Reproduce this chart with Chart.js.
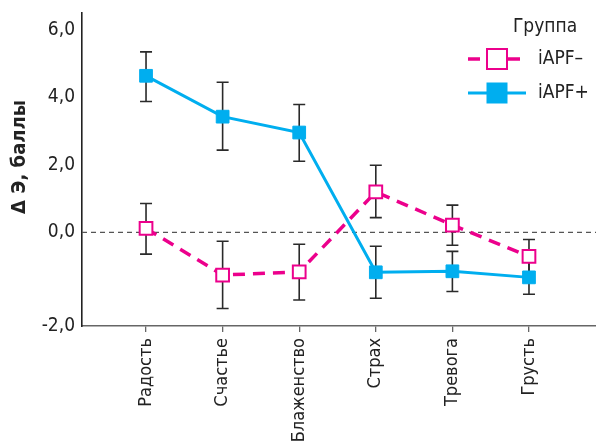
<!DOCTYPE html>
<html>
<head>
<meta charset="utf-8">
<script src="https://cdn.jsdelivr.net/npm/chart.js@4.4.1/dist/chart.umd.min.js"></script>
<style>
  html, body { margin: 0; padding: 0; background: #ffffff; }
  #wrap { width: 596px; height: 446px; }
</style>
</head>
<body>
<div id="wrap"><canvas id="chart" width="596" height="446"></canvas></div>
<script>
// Emotions on the x axis
const categories = ['Радость', 'Счастье', 'Блаженство', 'Страх', 'Тревога', 'Грусть'];

// Group iAPF– : mean change and error-bar ends
const apfMinus     = [0.12, -1.26, -1.17, 1.20, 0.22, -0.71];
const apfMinusLow  = [-0.64, -2.25, -2.00, 0.44, -0.38, -1.21];
const apfMinusHigh = [0.86, -0.26, -0.35, 1.99, 0.81, -0.21];

// Group iAPF+ : mean change and error-bar ends
const apfPlus     = [4.64, 3.43, 2.96, -1.18, -1.15, -1.33];
const apfPlusLow  = [3.88, 2.44, 2.11, -1.95, -1.75, -1.83];
const apfPlusHigh = [5.35, 4.45, 3.79, -0.41, -0.56, -0.83];

// Value-axis labels; the lowest one sits at the foot of the axis
const yTickValues = [0, 2, 4, 6];
const yBottomLabel = '-2,0';

const seriesNames = ['iAPF–', 'iAPF+'];
const legendTitle = 'Группа';
const yTitle = 'Δ Э, баллы';

const PINK = '#ec008c';
const BLUE = '#00aeef';
const FONT = "'DejaVu Sans Condensed', 'Liberation Sans', sans-serif";

const fmt = v => v.toFixed(1).replace('.', ',');

// Zero reference line and vertical error bars, drawn under the lines and markers
const errorBars = {
  id: 'errorBars',
  beforeDatasetsDraw(chart) {
    const { ctx, scales: { x, y } } = chart;
    ctx.save();
    const y0 = y.getPixelForValue(0);
    ctx.strokeStyle = '#555';
    ctx.lineWidth = 1.3;
    ctx.setLineDash([5, 4]);
    ctx.beginPath();
    ctx.moveTo(chart.chartArea.left, y0);
    ctx.lineTo(chart.chartArea.right, y0);
    ctx.stroke();
    ctx.setLineDash([]);

    ctx.strokeStyle = '#2a2a2a';
    ctx.lineWidth = 1.6;
    chart.data.datasets.forEach(ds => {
      ds.errLow.forEach((lo, j) => {
        const px = x.getPixelForValue(j);
        const yl = y.getPixelForValue(lo);
        const yh = y.getPixelForValue(ds.errHigh[j]);
        ctx.beginPath();
        ctx.moveTo(px, yl); ctx.lineTo(px, yh);
        ctx.moveTo(px - 6, yl); ctx.lineTo(px + 6, yl);
        ctx.moveTo(px - 6, yh); ctx.lineTo(px + 6, yh);
        ctx.stroke();
      });
    });
    ctx.restore();
  }
};

// Rotated value-axis title
const axisTitle = {
  id: 'axisTitle',
  afterDraw(chart, args, opts) {
    const { ctx } = chart;
    ctx.save();
    ctx.translate(opts.x, opts.y);
    ctx.rotate(-Math.PI / 2);
    ctx.fillStyle = '#222';
    ctx.font = 'bold 20px ' + FONT;
    ctx.textAlign = 'center';
    ctx.textBaseline = 'middle';
    ctx.fillText(opts.text, 0, 0);
    ctx.restore();
  }
};

// Legend block with its title, top right inside the plot
const groupLegend = {
  id: 'groupLegend',
  afterDraw(chart, args, opts) {
    const { ctx } = chart;
    ctx.save();
    ctx.fillStyle = '#222';
    ctx.font = '19px ' + FONT;
    ctx.textAlign = 'center';
    ctx.textBaseline = 'middle';
    ctx.fillText(opts.title, opts.titleX, opts.titleY);
    chart.data.datasets.forEach((ds, i) => {
      const cy = opts.rowY + i * opts.rowGap;
      ctx.strokeStyle = ds.borderColor;
      ctx.lineWidth = ds.borderWidth;
      ctx.setLineDash(ds.borderDash || []);
      ctx.beginPath();
      ctx.moveTo(opts.lineX0, cy);
      ctx.lineTo(opts.lineX1, cy);
      ctx.stroke();
      ctx.setLineDash([]);
      const mx = (opts.lineX0 + opts.lineX1) / 2;
      const s = opts.box;
      ctx.fillStyle = ds.pointBackgroundColor;
      ctx.fillRect(mx - s / 2, cy - s / 2, s, s);
      ctx.strokeStyle = ds.pointBorderColor;
      ctx.lineWidth = ds.pointBorderWidth;
      ctx.strokeRect(mx - s / 2, cy - s / 2, s, s);
      ctx.fillStyle = '#222';
      ctx.textAlign = 'left';
      ctx.fillText(ds.label, opts.textX, cy);
    });
    ctx.restore();
  }
};

new Chart(document.getElementById('chart'), {
  type: 'line',
  data: {
    datasets: [
      {
        label: seriesNames[0],
        data: apfMinus.map((v, i) => ({ x: i, y: v })),
        errLow: apfMinusLow,
        errHigh: apfMinusHigh,
        borderColor: PINK,
        borderWidth: 3.5,
        borderDash: [12, 8],
        pointStyle: 'rect',
        pointRadius: 9,
        pointBackgroundColor: '#ffffff',
        pointBorderColor: PINK,
        pointBorderWidth: 2,
        tension: 0
      },
      {
        label: seriesNames[1],
        data: apfPlus.map((v, i) => ({ x: i, y: v })),
        errLow: apfPlusLow,
        errHigh: apfPlusHigh,
        borderColor: BLUE,
        borderWidth: 3,
        pointStyle: 'rect',
        pointRadius: 9,
        pointBackgroundColor: BLUE,
        pointBorderColor: BLUE,
        pointBorderWidth: 1,
        tension: 0
      }
    ]
  },
  options: {
    responsive: false,
    animation: false,
    devicePixelRatio: 1,
    layout: { autoPadding: false, padding: { top: 13, right: 0, left: 0, bottom: 0 } },
    plugins: {
      legend: { display: false },
      tooltip: { enabled: false },
      axisTitle: { text: yTitle, x: 20, y: 157 },
      groupLegend: {
        title: legendTitle,
        titleX: 545, titleY: 27,
        rowY: 59, rowGap: 34,
        lineX0: 468, lineX1: 526,
        box: 20,
        textX: 538
      }
    },
    scales: {
      x: {
        type: 'linear',
        min: -0.836,
        max: 5.875,
        afterBuildTicks: s => { s.ticks = categories.map((c, i) => ({ value: i })); },
        afterFit: s => { s.height = 120; s.paddingLeft = 0; s.paddingRight = 0; },
        ticks: {
          autoSkip: false,
          minRotation: 90,
          maxRotation: 90,
          padding: 6,
          color: '#222',
          font: { family: FONT, size: 18 },
          callback: v => categories[v]
        },
        grid: {
          display: true,
          drawOnChartArea: false,
          drawTicks: true,
          tickLength: 6,
          color: '#666',
          lineWidth: 1.3
        },
        border: { display: true, color: '#666', width: 1.6 }
      },
      y: {
        type: 'linear',
        min: -2.77,
        max: 6.5,
        afterBuildTicks: s => {
          s.ticks = [{ value: s.min }].concat(yTickValues.map(v => ({ value: v })));
        },
        afterFit: s => { s.width = 82; s.paddingTop = 0; s.paddingBottom = 0; },
        ticks: {
          autoSkip: false,
          padding: 7,
          color: '#222',
          font: { family: FONT, size: 19 },
          callback: function (v) { return v === this.min ? yBottomLabel : fmt(v); }
        },
        grid: { display: false, drawTicks: false },
        border: { display: true, color: '#222', width: 1.6 }
      }
    }
  },
  plugins: [errorBars, axisTitle, groupLegend]
});
</script>
</body>
</html>
